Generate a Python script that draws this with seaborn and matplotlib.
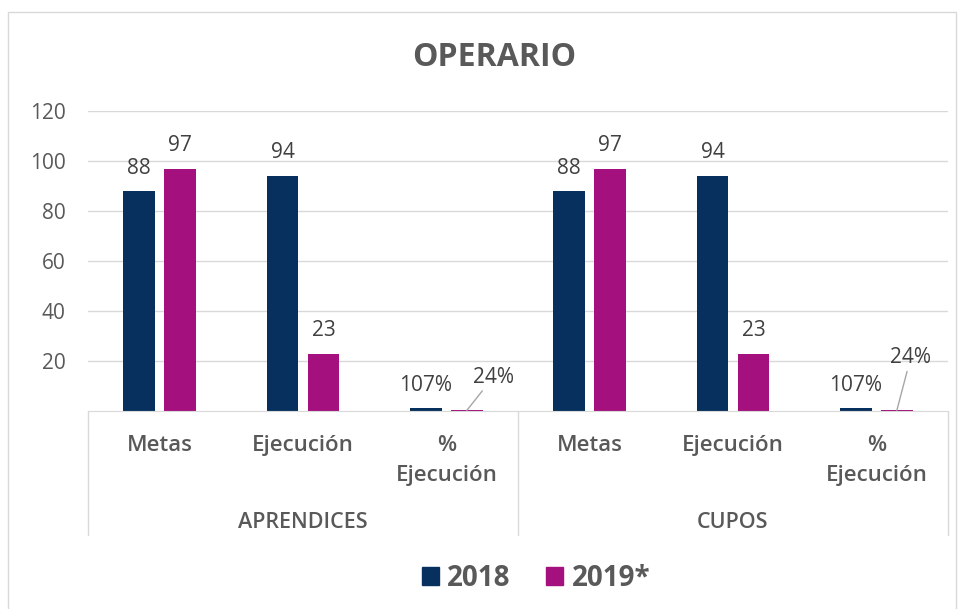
import matplotlib
matplotlib.use("Agg")
import matplotlib.pyplot as plt
import matplotlib.patches as mpatches
import pandas as pd
import seaborn as sns

# data
groups = ["APRENDICES", "CUPOS"]
categories = ["Metas", "Ejecución", "%\nEjecución"]
years = ["2018", "2019*"]
vals_2018 = [88, 94, 1.07, 88, 94, 1.07]
vals_2019 = [97, 23, 0.24, 97, 23, 0.24]
yticks = [20, 40, 60, 80, 100, 120]

COLORS = {"2018": "#08305f", "2019*": "#a4117f"}
TXT = "#595959"
GRID = "#d9d9d9"

sns.set_style("white")
plt.rcParams["font.family"] = ["Open Sans", "DejaVu Sans"]

keys = [f"{g}|{c}" for g in groups for c in categories]
df = pd.DataFrame({
    "key": keys * 2,
    "year": [years[0]] * len(keys) + [years[1]] * len(keys),
    "value": vals_2018 + vals_2019,
})

fig = plt.figure(figsize=(9.64, 6.09), dpi=100)
ax = fig.add_axes([88 / 964, 1 - 411 / 609, 860 / 964, 300 / 609])

sns.barplot(data=df, x="key", y="value", hue="year", order=keys,
            hue_order=years, palette=COLORS, saturation=1, width=0.572,
            gap=0.22, legend=False, ax=ax, linewidth=0)

ax.set_ylim(0, 120)
ax.set_xlim(-0.5, len(keys) - 0.5)
ax.set_yticks(yticks)
ax.yaxis.grid(True, color=GRID, lw=1)
ax.set_axisbelow(True)
for s in ["top", "right", "left"]:
    ax.spines[s].set_visible(False)
ax.spines["bottom"].set_color(GRID)
ax.tick_params(axis="y", length=0, pad=16, labelsize=15, labelcolor=TXT)
ax.tick_params(axis="x", length=0, pad=17, labelsize=16, labelcolor=TXT)
ax.set_xticks(range(len(keys)))
ax.set_xticklabels(categories * len(groups), fontweight="semibold",
                   linespacing=1.6)
ax.set_xlabel("")
ax.set_ylabel("")

# value labels
def fmt(v):
    return f"{v * 100:.0f}%" if v < 5 else f"{v:.0f}"

ax.bar_label(ax.containers[0], labels=[fmt(v) for v in vals_2018],
             padding=9, fontsize=15, color="#404040")
ax.bar_label(ax.containers[1],
             labels=[fmt(v) if v >= 5 else "" for v in vals_2019],
             padding=9, fontsize=15, color="#404040")

# small percentage bars get leader lines
offsets = [(19, 24), (10, 38)]
pct_bars = [b for b, v in zip(ax.containers[1], vals_2019) if v < 5]
pct_vals = [v for v in vals_2019 if v < 5]
for b, v, off in zip(pct_bars, pct_vals, offsets):
    ax.annotate(fmt(v), xy=(b.get_x() + b.get_width() / 2, b.get_height()),
                xytext=off, textcoords="offset points", ha="center",
                va="center", fontsize=15, color="#404040",
                arrowprops=dict(arrowstyle="-", color="#a6a6a6", lw=1,
                                shrinkA=0, shrinkB=0))

# group separators and group labels
tr = ax.get_xaxis_transform()
n = len(categories)
for i in range(len(groups) + 1):
    xpos = i * n - 0.5
    ax.plot([xpos, xpos], [0, -0.413], color=GRID, lw=1, transform=tr,
            clip_on=False)
for i, g in enumerate(groups):
    ax.text(i * n + (n - 1) / 2, -0.373, g, transform=tr, ha="center",
            va="center", fontsize=15.5, color=TXT, fontweight="semibold")

fig.text(494 / 964, 1 - 57 / 609, "OPERARIO", ha="center", va="center",
         fontsize=23, fontweight="bold", color=TXT)

handles = [mpatches.Patch(color=COLORS[y], label=y) for y in years]
fig.legend(handles=handles, loc="center", bbox_to_anchor=(536 / 964, 1 - 578 / 609),
           ncol=2, frameon=False, handlelength=0.6, handleheight=0.6,
           handletextpad=0.3, columnspacing=1.3,
           prop={"size": 20, "weight": "bold"}, labelcolor=TXT)

fig.patches.append(mpatches.Rectangle((8 / 964, -0.02), 948 / 964, 1.02 - 12 / 609,
                                      transform=fig.transFigure, fill=False,
                                      edgecolor=GRID, lw=1))

fig.savefig("out.png", dpi=100)
